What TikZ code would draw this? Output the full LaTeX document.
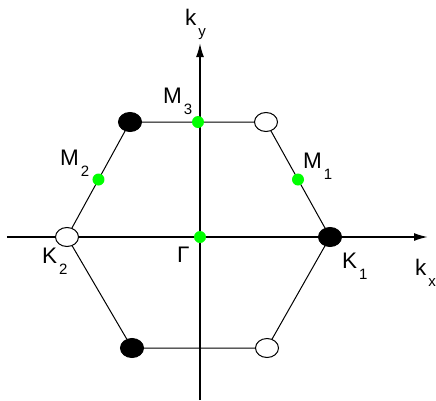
\documentclass[tikz,border=0pt]{standalone}
\usepackage{fontspec}
\setmainfont{Liberation Sans}
\usetikzlibrary{arrows.meta,calc,shapes.geometric}
\newcommand{\sublbl}[2]{#1\hspace{2pt}\raisebox{-11pt}{\fontsize{15}{15}\selectfont #2}}

\begin{document}
\begin{tikzpicture}[x=1pt, y=1pt,
    axis/.style={line width=1.8pt, -{Latex[length=14pt,width=8pt]}},
    edge/.style={line width=1pt},
    fullpt/.style={draw, ellipse, fill=black, line width=1pt, minimum width=23pt, minimum height=19pt, inner sep=0pt},
    openpt/.style={fullpt, fill=white},
    midpt/.style={circle, fill=green, minimum size=12pt, inner sep=0pt},
    lbl/.style={anchor=base west, inner sep=0pt, font=\fontsize{22.5}{26}\selectfont}]
    \useasboundingbox (-200,-163) rectangle (236,237);
    % axes
    \coordinate (xl) at (-193,0);
    \coordinate (xr) at (228,0);
    \coordinate (yb) at (0,-163);
    \coordinate (yt) at (0,194);
    \draw[axis] (xl) -- (xr);
    \draw[axis] (yb) -- (yt);
    % corners of the zone
    \node[fullpt] (k1) at (130,0) {};
    \node[openpt] (k2) at (-133,0) {};
    \node[fullpt] (tl) at (-70,115) {};
    \node[openpt] (tr) at (66,115) {};
    \node[fullpt] (bl) at (-68,-111) {};
    \node[openpt] (br) at (67,-111) {};
    \draw[edge] (k1) -- (tr) -- (tl) -- (k2) -- (bl) -- (br) -- (k1);
    % high symmetry points
    \node[midpt] (m1) at ($(k1)!0.5!(tr)$) {};
    \node[midpt] (m2) at ($(k2)!0.5!(tl)$) {};
    \node[midpt] (m3) at ($(tl)!0.5!(tr)$) {};
    \node[midpt] (g) at (0,0) {};
    % labels
    \node[lbl] (lky) at (-15,212) {\sublbl{k}{y}};
    \node[lbl] (lkx) at (215,-38) {\sublbl{k}{x}};
    \node[lbl] (lm3) at (-37,134) {\sublbl{M}{3}};
    \node[lbl] (lm2) at (-140,72) {\sublbl{M}{2}};
    \node[lbl] (lm1) at (103,69) {\sublbl{M}{1}};
    \node[lbl] (lk2) at (-158,-26) {\sublbl{K}{2}};
    \node[lbl] (lk1) at (142,-31) {\sublbl{K}{1}};
    \node[lbl] (lg) at (-23,-25) {Γ};
\end{tikzpicture}
\end{document}
